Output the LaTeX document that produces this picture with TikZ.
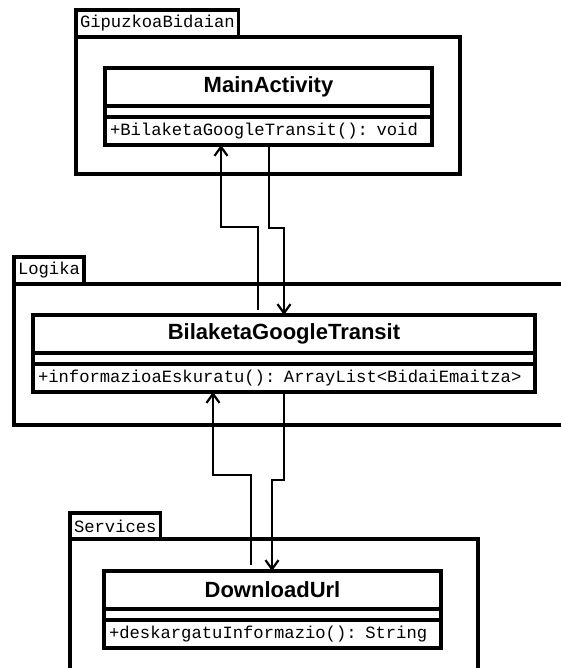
\documentclass[tikz,border=0pt]{standalone}
\usepackage{fontspec}
\setmainfont{Liberation Sans}
\setmonofont{Liberation Mono}
\usetikzlibrary{positioning,arrows.meta}

\begin{document}
\begin{tikzpicture}[x=1pt,y=-1pt]
\tikzstyle{every node} = [draw, shape=rectangle, line width=3.2pt, outer sep=0pt, fill=white]
\tikzstyle{pkgtab} = [anchor=north west, inner xsep=4pt, inner ysep=0pt, minimum height=27pt, font=\fontsize{17.2}{17.2}\ttfamily]
\tikzstyle{pkgbody} = [anchor=north west, inner sep=0pt]
\tikzstyle{cname} = [anchor=north west, inner sep=0pt, minimum height=38pt, font=\fontsize{22}{22}\bfseries]
\tikzstyle{cattr} = [inner sep=0pt, minimum height=11pt]
\tikzstyle{cops} = [inner xsep=5pt, inner ysep=0pt, minimum height=28pt, align=left, font=\fontsize{17.2}{17.2}\ttfamily]
\tikzstyle{callto} = [line width=2.2pt, -{Straight Barb[length=9pt,width=13pt]}]
\clip (0,0) rectangle (561,668);

\node [pkgtab] (gbtab) at (76, 10) {GipuzkoaBidaian};
\node [pkgbody, minimum width=384pt, minimum height=137pt] (gbbody) at (76, 37) {};
\node [cname, minimum width=327pt] (mainname) at (105, 68) {MainActivity};
\node [cattr, minimum width=327pt, below=0pt of mainname] (mainattr) {};
\node [cops, text width=317pt, below=0pt of mainattr] (mainops) {+BilaketaGoogleTransit(): void};

\node [pkgtab] (lgtab) at (14, 257) {Logika};
\node [pkgbody, minimum width=600pt, minimum height=141pt] (lgbody) at (14, 284) {};
\node [cname, minimum width=502pt] (bgtname) at (33, 315) {BilaketaGoogleTransit};
\node [cattr, minimum width=502pt, below=0pt of bgtname] (bgtattr) {};
\node [cops, text width=492pt, below=0pt of bgtattr] (bgtops) {+informazioaEskuratu(): ArrayList<BidaiEmaitza>};

\node [pkgtab] (svtab) at (70, 513) {Services};
\node [pkgbody, minimum width=408pt, minimum height=150pt] (svbody) at (70, 539) {};
\node [cname, minimum width=337pt] (dlname) at (104, 571) {DownloadUrl};
\node [cattr, minimum width=337pt, below=0pt of dlname] (dlattr) {};
\node [cops, text width=327pt, below=0pt of dlattr] (dlops) {+deskargatuInformazio(): String};

% calls between the layers
\coordinate (ua) at (258, 310);
\coordinate (ub) at (221, 227);
\draw [callto] (ua) |- (ub) -- (mainops.south -| ub);
\coordinate (da) at (269, 228);
\coordinate (db) at (284, 228);
\draw [callto] (mainops.south -| da) -- (da) -- (db) -- (bgtname.north -| db);

\coordinate (uc) at (251, 565);
\coordinate (ud) at (213, 475);
\draw [callto] (uc) |- (ud) -- (bgtops.south -| ud);
\coordinate (dc) at (284, 480);
\coordinate (dd) at (272, 480);
\draw [callto] (bgtops.south -| dc) -- (dc) -- (dd) -- (dlname.north -| dd);
\end{tikzpicture}
\end{document}
